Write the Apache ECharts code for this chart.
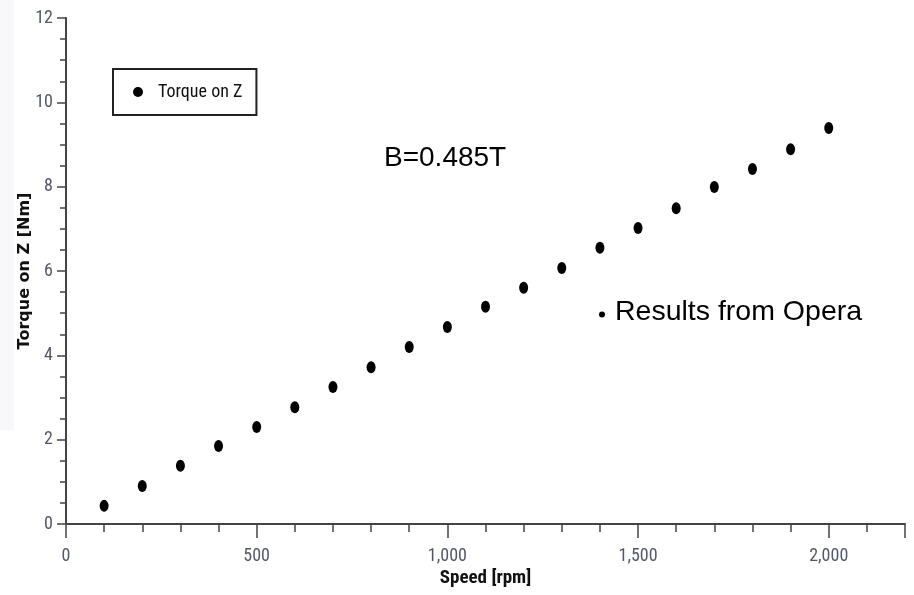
<!DOCTYPE html>
<html>
<head>
<meta charset="utf-8">
<script src="https://cdn.jsdelivr.net/npm/echarts@6/dist/echarts.min.js"></script>
<style>
  html, body { margin: 0; padding: 0; background: #fff; }
  #chart { width: 914px; height: 595px; }
</style>
</head>
<body>
<div id="chart"></div>
<script>
// Speed sweep (rpm) and the computed torque on Z (Nm)
const speedRpm = [100, 200, 300, 400, 500, 600, 700, 800, 900, 1000,
                  1100, 1200, 1300, 1400, 1500, 1600, 1700, 1800, 1900, 2000];
const torqueZ = [0.43, 0.90, 1.38, 1.85, 2.30, 2.77, 3.25, 3.72, 4.20, 4.67,
                 5.15, 5.60, 6.07, 6.55, 7.02, 7.49, 7.99, 8.42, 8.89, 9.39];
const seriesName = 'Torque on Z';
const xAxisName = 'Speed [rpm]';
const yAxisName = 'Torque on Z [Nm]';
const fieldNote = 'B=0.485T';
const sourceNote = 'Results from Opera';

const points = speedRpm.map((s, i) => [s, torqueZ[i]]);

// Pick the first narrow face that is actually installed.
function pickFont(candidates, fallback) {
  const ctx = document.createElement('canvas').getContext('2d');
  const sample = 'Torque on Z 2,000 [rpm]';
  const base = {};
  ['monospace', 'serif'].forEach(g => {
    ctx.font = '40px ' + g;
    base[g] = ctx.measureText(sample).width;
  });
  for (const f of candidates) {
    let found = false;
    for (const g of ['monospace', 'serif']) {
      ctx.font = '40px "' + f + '", ' + g;
      if (Math.abs(ctx.measureText(sample).width - base[g]) > 0.5) found = true;
    }
    if (found) return '"' + f + '"';
  }
  return fallback;
}
const narrowFont = pickFont(
  ['Noto Sans Condensed', 'Noto Sans Display Condensed', 'Roboto Condensed',
   'Open Sans Condensed Light', 'Liberation Sans Narrow', 'DejaVu Sans Condensed',
   'Open Sans Condensed'],
  '"Open Sans", sans-serif');
const isNarrow = narrowFont.indexOf('Condensed') >= 0 || narrowFont.indexOf('Narrow') >= 0;
const tickSize = isNarrow ? 18 : 15;
const axisColor = '#444';
const labelColor = '#535869';
const noteFont = '"Liberation Sans", Arial, sans-serif';

const chart = echarts.init(document.getElementById('chart'), null, { renderer: 'canvas' });
chart.setOption({
  animation: false,
  backgroundColor: '#fff',
  grid: { left: 66, right: 9, top: 18, bottom: 71, containLabel: false },
  legend: {
    left: 113, top: 69,
    padding: [14, 14, 14, 20],
    orient: 'vertical',
    borderColor: '#222', borderWidth: 2,
    itemWidth: 10, itemHeight: 12, itemGap: 6,
    textStyle: { fontFamily: narrowFont, fontWeight: 'normal', fontSize: isNarrow ? 18 : 16, color: '#111', padding: [0, 0, 0, 10] },
    data: [{ name: seriesName, icon: 'circle' }]
  },
  xAxis: {
    type: 'value', min: 0, max: 2200, interval: 500,
    name: xAxisName, nameLocation: 'middle', nameGap: 45,
    nameMoveOverlap: false,
    nameTextStyle: { fontFamily: narrowFont, fontWeight: 'bold', fontSize: isNarrow ? 19 : 17, color: '#111' },
    axisLine: { show: true, onZero: false, lineStyle: { color: axisColor, width: 2 } },
    axisTick: { show: true, inside: false, length: 14, lineStyle: { color: axisColor, width: 1.5 } },
    minorTick: { show: true, splitNumber: 5, length: 8, lineStyle: { color: axisColor, width: 1.5 } },
    axisLabel: {
      fontFamily: narrowFont, fontWeight: 'normal', fontSize: tickSize, color: labelColor, margin: 23,
      formatter: v => v.toLocaleString('en-US'),
      showMaxLabel: false
    },
    splitLine: { show: false }
  },
  yAxis: {
    type: 'value', min: 0, max: 12, interval: 2,
    name: yAxisName, nameLocation: 'middle', nameGap: 33,
    nameMoveOverlap: false,
    nameTextStyle: { fontFamily: '"DejaVu Sans", sans-serif', fontWeight: 'bold', fontSize: 16, color: '#111' },
    axisLine: { show: true, onZero: false, lineStyle: { color: axisColor, width: 2 } },
    axisTick: { show: true, inside: false, length: 9, lineStyle: { color: axisColor, width: 1.5 } },
    minorTick: { show: true, splitNumber: 4, length: 6, lineStyle: { color: axisColor, width: 1.5 } },
    axisLabel: { fontFamily: narrowFont, fontWeight: 'normal', fontSize: tickSize, color: labelColor, margin: 13 },
    splitLine: { show: false }
  },
  series: [{
    name: seriesName,
    type: 'scatter',
    symbol: 'circle',
    symbolSize: [9, 12],
    itemStyle: { color: '#000', opacity: 1 },
    emphasis: { disabled: true },
    data: points
  }],
  graphic: [
    {
      type: 'rect', left: 0, top: 0, z: -1, silent: true,
      shape: { width: 14, height: 430 },
      style: { fill: '#f8f8fb' }
    },
    {
      type: 'text', left: 384, top: 144,
      style: { text: fieldNote, font: '28px ' + noteFont, fill: '#000' }
    },
    {
      type: 'circle', silent: true,
      shape: { cx: 602, cy: 314.5, r: 3 },
      style: { fill: '#000' }
    },
    {
      type: 'text', left: 615, top: 298,
      style: { text: sourceNote, font: '28.5px ' + noteFont, fill: '#000' }
    }
  ]
});
</script>
</body>
</html>
